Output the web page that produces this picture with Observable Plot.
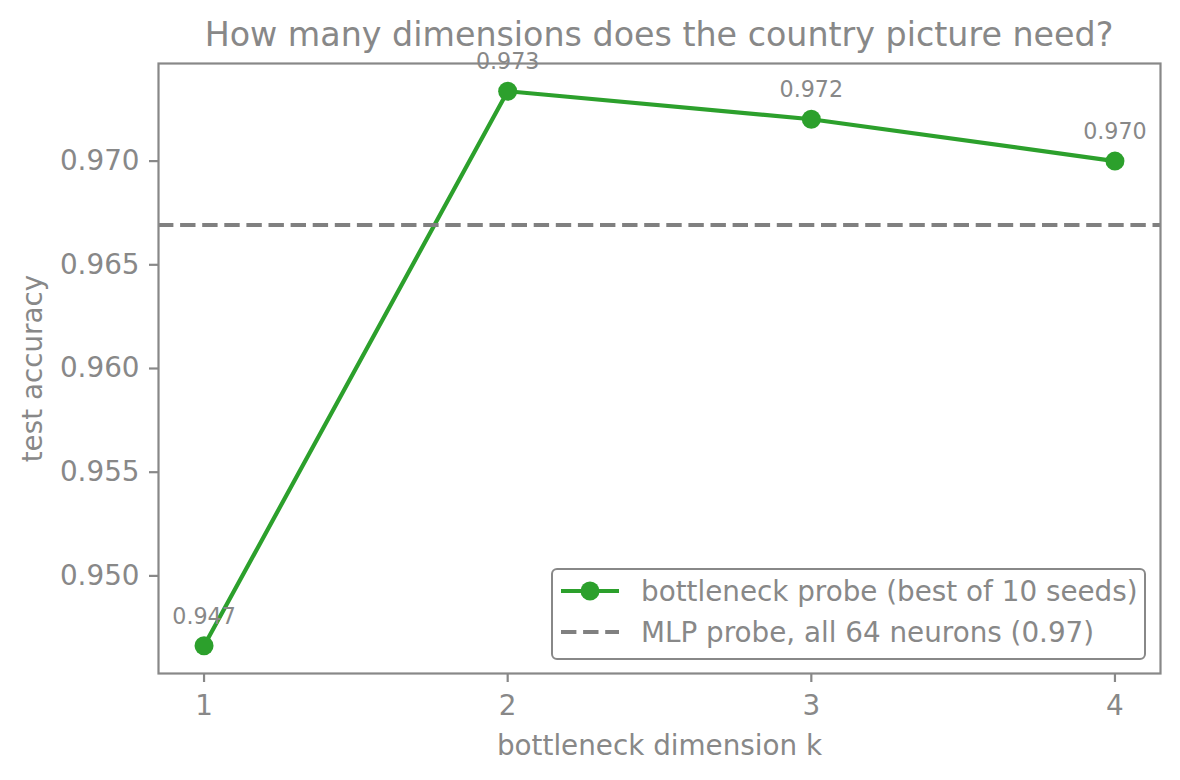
<!DOCTYPE html>
<html><head><meta charset="utf-8">
<script src="https://cdn.jsdelivr.net/npm/d3@7"></script>
<script src="https://cdn.jsdelivr.net/npm/@observablehq/plot@0.6"></script>
<style>
html,body{margin:0;padding:0;background:#fff;}
#wrap{position:relative;width:1180px;height:780px;font-family:"DejaVu Sans",sans-serif;color:#888;overflow:hidden;}
#title{box-sizing:border-box;height:50px;padding:17.8px 20px 0 158px;font-size:33.3px;line-height:1;text-align:center;white-space:nowrap;}
#legend{position:absolute;left:551px;top:568px;width:595px;height:92px;box-sizing:border-box;border:2.2px solid #888;border-radius:6px;background:rgba(255,255,255,0.8);}
.row{position:absolute;left:8px;height:41px;display:flex;align-items:center;white-space:nowrap;font-size:27.8px;}
.row svg{margin-right:22px;}
</style></head><body>
<div id="wrap"><div id="title"></div><div id="chart"></div><div id="legend"></div></div>
<script>
const titleText = "How many dimensions does the country picture need?";
const k = [1, 2, 3, 4];
const accuracy = [0.94663, 0.97337, 0.97202, 0.9700];
const mlpAccuracy = [0.96692];
const xTicks = [1, 2, 3, 4];
const yTicks = [0.950, 0.955, 0.960, 0.965, 0.970];
const xLabel = "bottleneck dimension k";
const yLabel = "test accuracy";
const legendLabels = ["bottleneck probe (best of 10 seeds)", "MLP probe, all 64 neurons (0.97)"];

const GREEN = "#2ca02c", GRAY = "#888", DASH = "#808080";
const data = k.map((kk, i) => ({k: kk, acc: accuracy[i]}));
const fmt3 = d3.format(".3f");

// matplotlib-style 5% autoscale margins
const pad = (lo, hi) => { const r = hi - lo; return [lo - 0.05 * r, hi + 0.05 * r]; };
const xDomain = pad(d3.min(k), d3.max(k));
const yDomain = pad(d3.min(accuracy), d3.max(accuracy));

document.getElementById("title").textContent = titleText;

const chart = Plot.plot({
  width: 1180, height: 730,
  marginLeft: 158, marginRight: 20, marginTop: 13, marginBottom: 107,
  style: {fontFamily: "DejaVu Sans", color: GRAY, background: "white", overflow: "visible"},
  x: {domain: xDomain},
  y: {domain: yDomain},
  marks: [
    Plot.axisX({ticks: xTicks, tickFormat: d => String(d), tickSize: 9, tickPadding: 13, strokeWidth: 2.2,
      fontSize: 27.8, label: xLabel, labelAnchor: "center", labelOffset: 81, labelArrow: "none"}),
    Plot.axisY({ticks: yTicks, tickFormat: fmt3, tickSize: 9, tickPadding: 10, strokeWidth: 2.2,
      fontSize: 27.8, label: yLabel, labelAnchor: "center", labelOffset: 136, labelArrow: "none"}),
    Plot.line(data, {x: "k", y: "acc", stroke: GREEN, strokeWidth: 4.2}),
    Plot.ruleY(mlpAccuracy, {stroke: DASH, strokeWidth: 4.2, strokeDasharray: "15.4,6.7"}),
    Plot.dot(data, {x: "k", y: "acc", r: 9.5, fill: GREEN}),
    Plot.text(data, {x: "k", y: "acc", text: d => fmt3(d.acc), dy: -29, fill: GRAY, fontSize: 22.2}),
    Plot.frame({stroke: GRAY, strokeWidth: 2.2})
  ]
});
document.getElementById("chart").appendChild(chart);

const swatches = [
  `<svg width="58" height="24"><line x1="0" x2="58" y1="12" y2="12" stroke="${GREEN}" stroke-width="4.2"/><circle cx="29" cy="12" r="9.5" fill="${GREEN}"/></svg>`,
  `<svg width="58" height="24"><line x1="0" x2="58" y1="12" y2="12" stroke="${DASH}" stroke-width="4.2" stroke-dasharray="15.4,6.7"/></svg>`
];
const legend = document.getElementById("legend");
legendLabels.forEach((lab, i) => {
  const row = document.createElement("div");
  row.className = "row";
  row.style.top = (0.5 + i * 41) + "px";
  row.innerHTML = swatches[i] + `<span>${lab}</span>`;
  legend.appendChild(row);
});
</script>
</body></html>
